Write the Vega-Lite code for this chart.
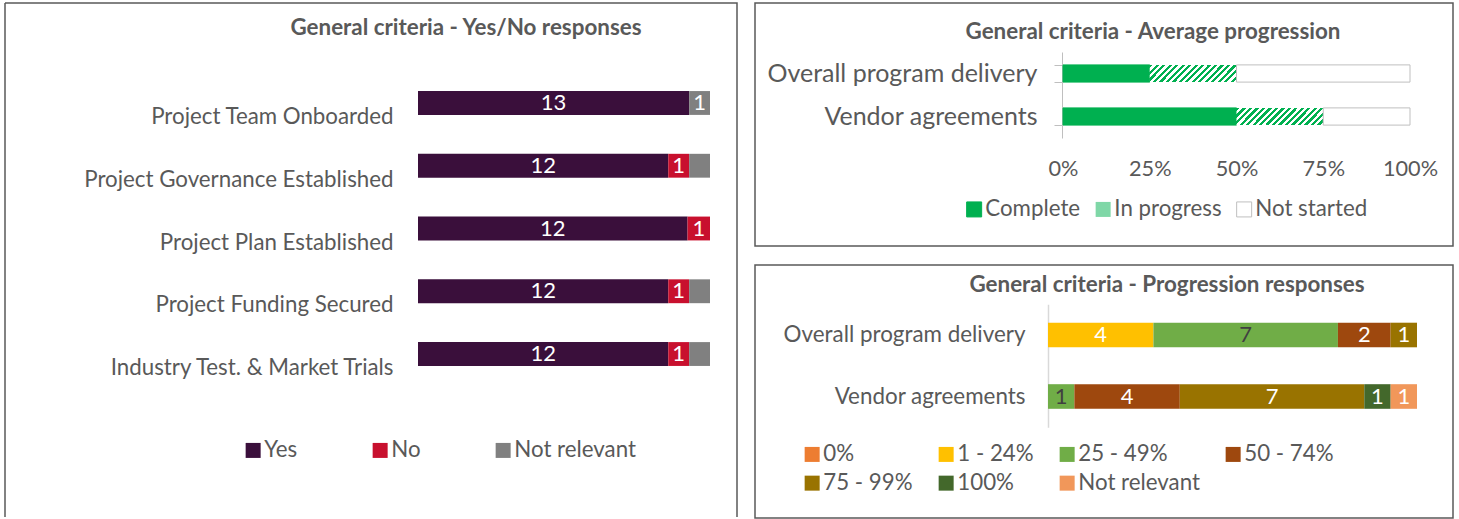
{
  "$schema": "https://vega.github.io/schema/vega-lite/v6.json",
  "padding": {"left": 4, "top": -10, "right": 0, "bottom": 0},
  "background": "white",
  "datasets": {
    "yesno": [
      {"item": "Project Team Onboarded", "resp": "Yes", "value": 13, "label": "13"},
      {"item": "Project Team Onboarded", "resp": "Not relevant", "value": 1, "label": "1"},
      {"item": "Project Governance Established", "resp": "Yes", "value": 12, "label": "12"},
      {"item": "Project Governance Established", "resp": "No", "value": 1, "label": "1"},
      {"item": "Project Governance Established", "resp": "Not relevant", "value": 1, "label": ""},
      {"item": "Project Plan Established", "resp": "Yes", "value": 12, "label": "12"},
      {"item": "Project Plan Established", "resp": "No", "value": 1, "label": "1"},
      {"item": "Project Funding Secured", "resp": "Yes", "value": 12, "label": "12"},
      {"item": "Project Funding Secured", "resp": "No", "value": 1, "label": "1"},
      {"item": "Project Funding Secured", "resp": "Not relevant", "value": 1, "label": ""},
      {"item": "Industry Test. & Market Trials", "resp": "Yes", "value": 12, "label": "12"},
      {"item": "Industry Test. & Market Trials", "resp": "No", "value": 1, "label": "1"},
      {"item": "Industry Test. & Market Trials", "resp": "Not relevant", "value": 1, "label": ""}
    ],
    "avg": [
      {"item": "Overall program delivery", "status": "Complete", "value": 0.25},
      {"item": "Overall program delivery", "status": "In progress", "value": 0.25},
      {"item": "Overall program delivery", "status": "Not started", "value": 0.5},
      {"item": "Vendor agreements", "status": "Complete", "value": 0.5},
      {"item": "Vendor agreements", "status": "In progress", "value": 0.25},
      {"item": "Vendor agreements", "status": "Not started", "value": 0.25}
    ],
    "prog": [
      {"item": "Overall program delivery", "band": "1 - 24%", "value": 4},
      {"item": "Overall program delivery", "band": "25 - 49%", "value": 7},
      {"item": "Overall program delivery", "band": "50 - 74%", "value": 2},
      {"item": "Overall program delivery", "band": "75 - 99%", "value": 1},
      {"item": "Vendor agreements", "band": "25 - 49%", "value": 1},
      {"item": "Vendor agreements", "band": "50 - 74%", "value": 4},
      {"item": "Vendor agreements", "band": "75 - 99%", "value": 7},
      {"item": "Vendor agreements", "band": "100%", "value": 1},
      {"item": "Vendor agreements", "band": "Not relevant", "value": 1}
    ]
  },
  "bounds": "flush",
  "spacing": 18,
  "resolve": {"scale": {"fill": "independent", "stroke": "independent"}, "legend": {"fill": "independent", "stroke": "independent"}},
  "hconcat": [
    {
      "width": 732,
      "height": 514,
      "view": {"stroke": "#595959", "strokeWidth": 1.5, "strokeDash": [1246, 732, 514, 0]},
      "title": {"text": "General criteria - Yes/No responses", "orient": "bottom", "dx": 95, "offset": -500},
      "data": {"name": "yesno"},
      "transform": [
        {"calculate": "indexof(['Yes','No','Not relevant'], datum.resp)", "as": "ord"},
        {"stack": "value", "groupby": ["item"], "sort": [{"field": "ord", "order": "ascending"}], "offset": "normalize", "as": ["x0", "x1"]},
        {"calculate": "(datum.x0 + datum.x1) / 2", "as": "mid"}
      ],
      "encoding": {
        "y": {
          "field": "item", "type": "nominal",
          "sort": ["Project Team Onboarded", "Project Governance Established", "Project Plan Established", "Project Funding Secured", "Industry Test. & Market Trials"],
          "scale": {"range": [68.6, 382.4], "paddingInner": 0.62, "paddingOuter": 0.31},
          "axis": {"orient": "left", "offset": -413, "domain": false, "ticks": false, "labelPadding": 25, "labelOffset": 14, "labelLimit": 400, "labelFontSize": 22.3, "title": null}
        }
      },
      "layer": [
        {
          "mark": {"type": "bar"},
          "encoding": {
            "x": {"field": "x0", "type": "quantitative", "scale": {"domain": [0, 1], "range": [413, 705]}, "axis": null},
            "x2": {"field": "x1"},
            "fill": {
              "field": "resp", "type": "nominal",
              "scale": {"domain": ["Yes", "No", "Not relevant"], "range": ["#3A0F3B", "#C8102E", "#808080"]},
              "legend": {"orient": "none", "legendX": 237, "legendY": 436, "direction": "horizontal", "title": null, "symbolType": "square", "symbolSize": 225, "symbolStrokeWidth": 0, "columnPadding": 71, "labelOffset": 0}
            }
          }
        },
        {
          "mark": {"type": "text", "color": "white", "fontSize": 22, "baseline": "middle"},
          "encoding": {
            "x": {"field": "mid", "type": "quantitative", "axis": null},
            "text": {"field": "label"}
          }
        }
      ]
    },
    {
      "bounds": "flush",
      "spacing": 19,
      "resolve": {"scale": {"fill": "independent", "stroke": "independent"}, "legend": {"fill": "independent", "stroke": "independent"}},
      "vconcat": [
        {
          "width": 698,
          "height": 243,
          "title": {"text": "General criteria - Average progression", "orient": "bottom", "dx": 49, "offset": -225},
          "data": {"name": "avg"},
          "transform": [
            {"calculate": "indexof(['Complete','In progress','Not started'], datum.status)", "as": "ord"},
            {"stack": "value", "groupby": ["item"], "sort": [{"field": "ord", "order": "ascending"}], "offset": "zero", "as": ["x0", "x1"]}
          ],
          "mark": {"type": "bar", "strokeWidth": 1},
          "encoding": {
            "y": {
              "field": "item", "type": "nominal",
              "sort": ["Overall program delivery", "Vendor agreements"],
              "scale": {"range": [49, 135], "paddingInner": 0.6, "paddingOuter": 0.3},
              "axis": {"orient": "left", "offset": -307, "domain": true, "domainColor": "#BFBFBF", "ticks": true, "tickColor": "#BFBFBF", "tickSize": 8, "tickBand": "extent", "labelPadding": 17, "labelLimit": 400, "labelFontSize": 25, "title": null}
            },
            "x": {
              "field": "x0", "type": "quantitative",
              "scale": {"domain": [0, 1], "range": [308, 655]},
              "axis": {"orient": "bottom", "offset": -91, "values": [0, 0.25, 0.5, 0.75, 1], "format": ".0%", "domain": false, "ticks": false, "grid": false, "labelFlush": false, "labelPadding": 3, "labelFontSize": 21.7, "title": null}
            },
            "x2": {"field": "x1"},
            "fill": {
              "condition": {"test": "datum.status === 'In progress'", "value": {"gradient": "linear", "x1": 0, "y1": 0, "x2": 1.1514, "y2": 0.225, "stops": [
                    {"offset": 0, "color": "#00B050"}, {"offset": 0.03125, "color": "#00B050"}, {"offset": 0.03125, "color": "#FFFFFF"}, {"offset": 0.0625, "color": "#FFFFFF"},
                    {"offset": 0.0625, "color": "#00B050"}, {"offset": 0.09375, "color": "#00B050"}, {"offset": 0.09375, "color": "#FFFFFF"}, {"offset": 0.125, "color": "#FFFFFF"},
                    {"offset": 0.125, "color": "#00B050"}, {"offset": 0.15625, "color": "#00B050"}, {"offset": 0.15625, "color": "#FFFFFF"}, {"offset": 0.1875, "color": "#FFFFFF"},
                    {"offset": 0.1875, "color": "#00B050"}, {"offset": 0.21875, "color": "#00B050"}, {"offset": 0.21875, "color": "#FFFFFF"}, {"offset": 0.25, "color": "#FFFFFF"},
                    {"offset": 0.25, "color": "#00B050"}, {"offset": 0.28125, "color": "#00B050"}, {"offset": 0.28125, "color": "#FFFFFF"}, {"offset": 0.3125, "color": "#FFFFFF"},
                    {"offset": 0.3125, "color": "#00B050"}, {"offset": 0.34375, "color": "#00B050"}, {"offset": 0.34375, "color": "#FFFFFF"}, {"offset": 0.375, "color": "#FFFFFF"},
                    {"offset": 0.375, "color": "#00B050"}, {"offset": 0.40625, "color": "#00B050"}, {"offset": 0.40625, "color": "#FFFFFF"}, {"offset": 0.4375, "color": "#FFFFFF"},
                    {"offset": 0.4375, "color": "#00B050"}, {"offset": 0.46875, "color": "#00B050"}, {"offset": 0.46875, "color": "#FFFFFF"}, {"offset": 0.5, "color": "#FFFFFF"},
                    {"offset": 0.5, "color": "#00B050"}, {"offset": 0.53125, "color": "#00B050"}, {"offset": 0.53125, "color": "#FFFFFF"}, {"offset": 0.5625, "color": "#FFFFFF"},
                    {"offset": 0.5625, "color": "#00B050"}, {"offset": 0.59375, "color": "#00B050"}, {"offset": 0.59375, "color": "#FFFFFF"}, {"offset": 0.625, "color": "#FFFFFF"},
                    {"offset": 0.625, "color": "#00B050"}, {"offset": 0.65625, "color": "#00B050"}, {"offset": 0.65625, "color": "#FFFFFF"}, {"offset": 0.6875, "color": "#FFFFFF"},
                    {"offset": 0.6875, "color": "#00B050"}, {"offset": 0.71875, "color": "#00B050"}, {"offset": 0.71875, "color": "#FFFFFF"}, {"offset": 0.75, "color": "#FFFFFF"},
                    {"offset": 0.75, "color": "#00B050"}, {"offset": 0.78125, "color": "#00B050"}, {"offset": 0.78125, "color": "#FFFFFF"}, {"offset": 0.8125, "color": "#FFFFFF"},
                    {"offset": 0.8125, "color": "#00B050"}, {"offset": 0.84375, "color": "#00B050"}, {"offset": 0.84375, "color": "#FFFFFF"}, {"offset": 0.875, "color": "#FFFFFF"},
                    {"offset": 0.875, "color": "#00B050"}, {"offset": 0.90625, "color": "#00B050"}, {"offset": 0.90625, "color": "#FFFFFF"}, {"offset": 0.9375, "color": "#FFFFFF"},
                    {"offset": 0.9375, "color": "#00B050"}, {"offset": 0.96875, "color": "#00B050"}, {"offset": 0.96875, "color": "#FFFFFF"}, {"offset": 1, "color": "#FFFFFF"}
                  ]}},
              "field": "status", "type": "nominal",
              "scale": {"domain": ["Complete", "In progress", "Not started"], "range": ["#00B050", "#7FD7A7", "#FFFFFF"]},
              "legend": {"orient": "none", "legendX": 208, "legendY": 195, "direction": "horizontal", "title": null, "symbolType": "square", "symbolSize": 225, "symbolStrokeWidth": 1, "columnPadding": 11, "labelOffset": 0}
            },
            "stroke": {
              "field": "status", "type": "nominal",
              "scale": {"domain": ["Complete", "In progress", "Not started"], "range": ["#00B050", "transparent", "#BFBFBF"]},
              "legend": {"orient": "none", "legendX": 208, "legendY": 195, "direction": "horizontal", "title": null, "symbolType": "square", "symbolSize": 225, "symbolStrokeWidth": 1, "columnPadding": 11, "labelOffset": 0}
            }
          }
        },
        {
          "width": 698,
          "height": 253,
          "title": {"text": "General criteria - Progression responses", "orient": "bottom", "dx": 63, "offset": -244},
          "data": {"name": "prog"},
          "transform": [
            {"calculate": "indexof(['0%','1 - 24%','25 - 49%','50 - 74%','75 - 99%','100%','Not relevant'], datum.band)", "as": "ord"},
            {"stack": "value", "groupby": ["item"], "sort": [{"field": "ord", "order": "ascending"}], "offset": "zero", "as": ["x0", "x1"]},
            {"calculate": "(datum.x0 + datum.x1) / 2", "as": "mid"}
          ],
          "encoding": {
            "y": {
              "field": "item", "type": "nominal",
              "sort": ["Overall program delivery", "Vendor agreements"],
              "scale": {"range": [39.25, 162.25], "paddingInner": 0.6, "paddingOuter": 0.3},
              "axis": {"orient": "left", "offset": -293, "domain": true, "domainColor": "#D9D9D9", "domainWidth": 1.5, "ticks": false, "labelPadding": 23, "labelLimit": 400, "labelFontSize": 22.4, "title": null}
            }
          },
          "layer": [
            {
              "mark": {"type": "bar"},
              "encoding": {
                "x": {"field": "x0", "type": "quantitative", "scale": {"domain": [0, 14], "range": [293, 662]}, "axis": null},
                "x2": {"field": "x1"},
                "fill": {
                  "field": "band", "type": "nominal",
                  "scale": {
                    "domain": ["0%", "1 - 24%", "25 - 49%", "50 - 74%", "75 - 99%", "100%", "Not relevant"],
                    "range": ["#ED7D31", "#FFC000", "#70AD47", "#9E480E", "#997300", "#43682B", "#F1975A"]
                  },
                  "legend": {"orient": "none", "legendX": 46, "legendY": 178, "direction": "horizontal", "columns": 4, "title": null, "symbolType": "square", "symbolSize": 225, "symbolStrokeWidth": 0, "columnPadding": 22, "rowPadding": 6, "labelOffset": 0}
                }
              }
            },
            {
              "mark": {"type": "text", "fontSize": 22, "baseline": "middle"},
              "encoding": {
                "x": {"field": "mid", "type": "quantitative", "axis": null},
                "text": {"field": "value", "type": "quantitative"},
                "color": {"condition": {"test": "datum.band === '25 - 49%'", "value": "#404040"}, "value": "#FFFFFF"}
              }
            }
          ]
        }
      ]
    }
  ],
  "config": {
    "font": "Lato",
    "view": {"stroke": "#595959", "strokeWidth": 1.5},
    "title": {"font": "Lato", "fontSize": 22.4, "fontWeight": "bold", "color": "#595959", "anchor": "middle", "baseline": "top"},
    "axis": {"labelFont": "Lato", "labelFontSize": 22.3, "labelColor": "#595959"},
    "legend": {"labelFont": "Lato", "labelFontSize": 22.3, "labelColor": "#595959"},
    "text": {"font": "Lato"}
  }
}
